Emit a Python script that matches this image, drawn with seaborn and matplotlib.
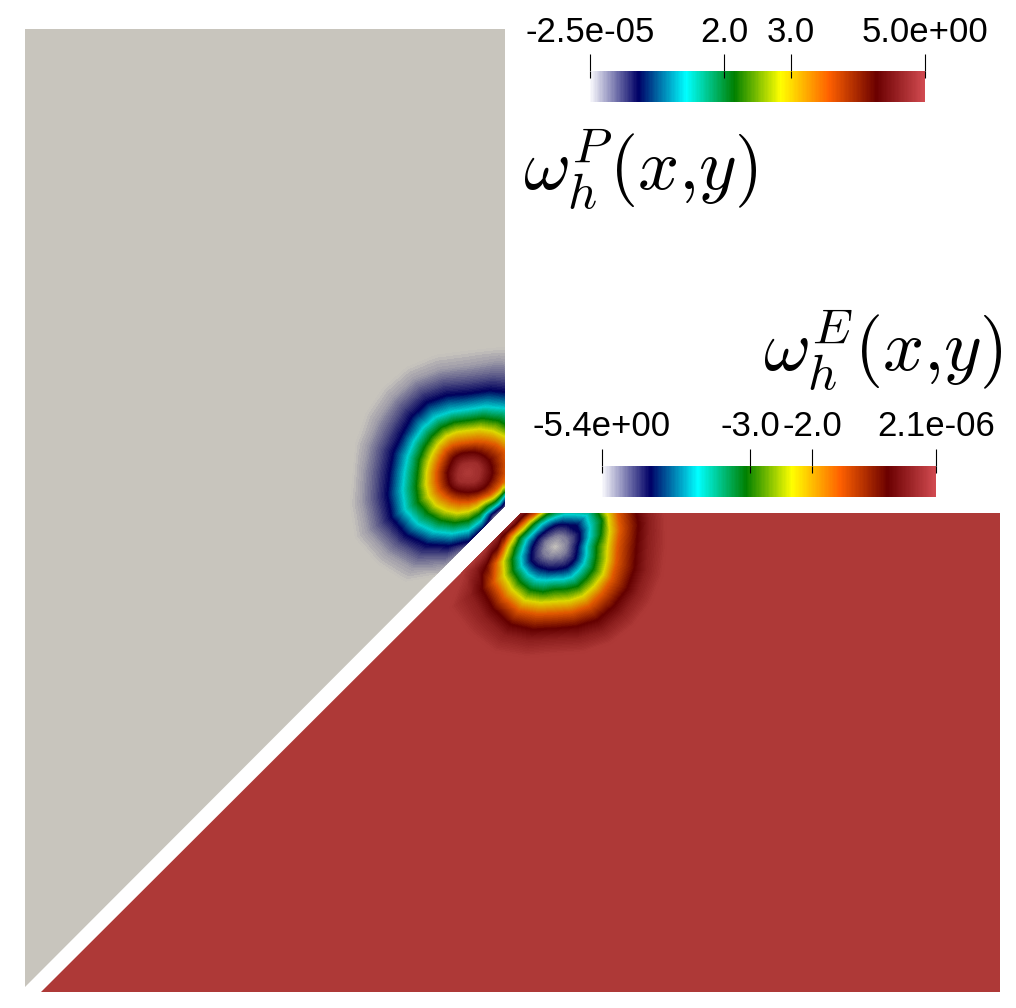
import numpy as np
import matplotlib
matplotlib.use("Agg")
import matplotlib.pyplot as plt
from matplotlib.colors import LinearSegmentedColormap
from matplotlib.patches import Polygon
from matplotlib.tri import Triangulation
import seaborn as sns

# ---- data ----
P_RANGE = [-2.5e-05, 5.0]
E_RANGE = [-5.4, 2.1e-06]
P_TICKS = [-2.5e-05, 2.0, 3.0, 5.0]
E_TICKS = [-5.4, -3.0, -2.0, 2.1e-06]
P_TICK_LABELS = ["-2.5e-05", "2.0", "3.0", "5.0e+00"]
E_TICK_LABELS = ["-5.4e+00", "-3.0", "-2.0", "2.1e-06"]
P_TITLE = r"$\omega_h^{P}(x{,}y)$"
E_TITLE = r"$\omega_h^{E}(x{,}y)$"

RING_ANGLES = [0, 15, 30, 45, 60, 75, 90, 105, 120, 135, 150, 165,
               180, 195, 210, 225, 240, 255, 270, 285, 300, 315, 330, 345]

# fraction of the colour range carried by each ring, centre value first
P_CENTRE_LEVEL = 1.0
P_LEVELS = [0.97, 0.857, 0.714, 0.57, 0.43, 0.286, 0.143, 0.08, 0.03, 0.0]
P_RADII = [
    [11, 24, 38, 50, 60, 72, 90, 105, 120, 135],
    [12, 24, 40, 51, 61, 75, 94, 108, 123, 138],
    [12, 24, 42, 52, 62, 78, 98, 112, 126, 140],
    [12, 23, 39, 51, 62, 77, 96, 111, 126, 140],
    [11, 22, 35, 48, 60, 74, 92, 108, 124, 138],
    [10, 21, 32, 45, 56, 68, 85, 100, 116, 130],
    [9, 20, 30, 42, 52, 63, 79, 93, 107, 122],
    [9, 20, 30, 42, 52, 63, 80, 94, 107, 122],
    [9, 20, 31, 42, 52, 64, 81, 95, 108, 122],
    [9, 20, 31, 41, 51, 63, 79, 93, 106, 120],
    [9, 19, 30, 40, 50, 62, 76, 90, 104, 118],
    [9, 19, 30, 40, 50, 62, 77, 91, 104, 116],
    [9, 20, 31, 41, 50, 63, 78, 92, 105, 115],
    [10, 20, 32, 43, 53, 67, 83, 97, 110, 122],
    [11, 21, 33, 45, 57, 72, 88, 102, 116, 130],
    [11, 21, 32, 45, 56, 71, 87, 100, 114, 128],
    [10, 20, 31, 43, 54, 67, 82, 96, 110, 125],
    [9, 19, 30, 41, 51, 62, 75, 86, 96, 106],
    [9, 19, 29, 38, 47, 57, 68, 74, 80, 86],
    [9, 19, 28, 35, 42, 49, 57, 61, 65, 69],
    [10, 20, 28, 33, 38, 43, 47, 50, 53, 56],
    [10, 21, 30, 35, 39, 43, 47, 50, 53, 56],
    [11, 22, 32, 37, 40, 43, 47, 50, 53, 56],
    [11, 23, 35, 43, 50, 57, 68, 77, 87, 95],
]

E_CENTRE_LEVEL = 0.0
E_LEVELS = [0.05, 0.143, 0.286, 0.43, 0.57, 0.714, 0.857, 0.93, 1.0]
E_RADII = [
    [12, 23, 32, 42, 53, 63, 82, 93, 112],
    [13, 26, 36, 48, 57, 68, 87, 98, 115],
    [14, 29, 41, 55, 62, 73, 92, 104, 118],
    [14, 31, 45, 57, 66, 76, 95, 108, 120],
    [13, 26, 38, 48, 58, 68, 88, 100, 115],
    [12, 24, 34, 42, 50, 59, 74, 85, 98],
    [11, 22, 30, 37, 42, 50, 60, 70, 80],
    [10, 20, 28, 34, 38, 43, 50, 58, 66],
    [10, 19, 27, 32, 36, 39, 45, 50, 54],
    [10, 19, 26, 32, 36, 40, 45, 49, 53],
    [11, 20, 27, 33, 37, 42, 46, 49, 52],
    [11, 21, 30, 37, 42, 47, 52, 57, 61],
    [11, 23, 32, 40, 47, 52, 58, 65, 70],
    [12, 25, 36, 45, 54, 62, 72, 82, 96],
    [13, 28, 39, 49, 59, 71, 85, 97, 122],
    [13, 27, 39, 50, 61, 73, 88, 100, 122],
    [12, 25, 38, 50, 62, 74, 90, 102, 122],
    [11, 24, 35, 47, 58, 70, 86, 97, 115],
    [10, 23, 33, 43, 55, 67, 82, 92, 108],
    [10, 23, 34, 44, 56, 68, 83, 94, 110],
    [11, 24, 35, 46, 57, 69, 85, 97, 112],
    [11, 24, 34, 45, 56, 67, 84, 96, 112],
    [12, 24, 34, 45, 56, 66, 84, 95, 112],
    [12, 23, 33, 43, 54, 64, 83, 94, 112],
]

# ---- colours ----
STOPS = [0.0, 0.143, 0.286, 0.43, 0.57, 0.714, 0.857, 1.0]
BAR_COLOURS = ["#f8f8fc", "#000066", "#00ffff", "#008000", "#ffff00", "#ff6100", "#6b0000", "#d14a50"]
FIELD_COLOURS = ["#c8c5bd", "#00005c", "#00cfcf", "#007a00", "#dcd800", "#e05800", "#640000", "#ae3937"]
bar_cmap = LinearSegmentedColormap.from_list("bar", list(zip(STOPS, BAR_COLOURS)), N=512)
field_cmap = LinearSegmentedColormap.from_list("field", list(zip(STOPS, FIELD_COLOURS)), N=512)

# ---- layout (pixels) ----
W, H = 1016, 1008
P_POLY = [(25, 29), (505, 29), (505, 506), (25, 987)]
E_POLY = [(521, 513), (1000, 513), (1000, 992), (41, 992)]
P_CENTRE = (468, 473)
E_CENTRE = (555, 547)
P_BAR = (590, 71, 335, 31)
E_BAR = (602, 466, 334, 31)

sns.set_theme(style="white")
plt.rcParams["font.family"] = ["Liberation Sans", "DejaVu Sans"]
plt.rcParams["mathtext.fontset"] = "cm"

fig = plt.figure(figsize=(W / 100, H / 100), dpi=100, facecolor="white")
ax = fig.add_axes([0, 0, 1, 1])
ax.set_xlim(0, W)
ax.set_ylim(H, 0)
ax.axis("off")


def draw_field(poly, base, centre, centre_level, levels, radii, vrange):
    patch = Polygon(poly, closed=True, facecolor=field_cmap(base), edgecolor="none", zorder=1)
    ax.add_patch(patch)
    theta = np.deg2rad(RING_ANGLES)
    rad = np.asarray(radii, float)
    xs = centre[0] + rad * np.cos(theta)[:, None]
    ys = centre[1] - rad * np.sin(theta)[:, None]
    vals = np.tile(np.asarray(levels, float), (len(theta), 1))
    x = np.r_[centre[0], xs.ravel()]
    y = np.r_[centre[1], ys.ravel()]
    z = np.r_[centre_level, vals.ravel()]
    z = vrange[0] + z * (vrange[1] - vrange[0])
    tri = Triangulation(x, y)
    cs = ax.tricontourf(tri, z, levels=np.linspace(vrange[0], vrange[1], 160),
                        cmap=field_cmap, vmin=vrange[0], vmax=vrange[1], extend="both",
                        antialiased=False, zorder=2)
    cs.set_clip_path(patch)


draw_field(P_POLY, 0.0, P_CENTRE, P_CENTRE_LEVEL, P_LEVELS, P_RADII, P_RANGE)
draw_field(E_POLY, 1.0, E_CENTRE, E_CENTRE_LEVEL, E_LEVELS, E_RADII, E_RANGE)


def draw_bar(rect, vrange, ticks, labels):
    x0, y0, w, h = rect
    bax = fig.add_axes([x0 / W, 1 - (y0 + h) / H, w / W, h / H])
    ramp = np.linspace(vrange[0], vrange[1], 256)[None, :]
    sns.heatmap(ramp, ax=bax, cmap=bar_cmap, vmin=vrange[0], vmax=vrange[1],
                cbar=False, xticklabels=False, yticklabels=False)
    pos = (np.asarray(ticks) - vrange[0]) / (vrange[1] - vrange[0]) * ramp.shape[1]
    bax.set_xticks(pos)
    bax.set_xticklabels(labels, fontsize=25, color="black")
    bax.tick_params(axis="x", top=True, bottom=False, labeltop=True, labelbottom=False,
                    direction="out", length=12.2, width=0.8, color="black", pad=4)
    bax.vlines(pos, 1, 1 - 7 / 31, transform=bax.get_xaxis_transform(),
               color="black", lw=0.8, clip_on=False, zorder=5)
    for s in bax.spines.values():
        s.set_visible(False)


draw_bar(P_BAR, P_RANGE, P_TICKS, P_TICK_LABELS)
draw_bar(E_BAR, E_RANGE, E_TICKS, E_TICK_LABELS)

ax.text(523, 191, P_TITLE, fontsize=52, color="black", ha="left", va="baseline", zorder=6)
ax.text(763, 372, E_TITLE, fontsize=52, color="black", ha="left", va="baseline", zorder=6)

fig.savefig("out.png", dpi=100, facecolor="white")
